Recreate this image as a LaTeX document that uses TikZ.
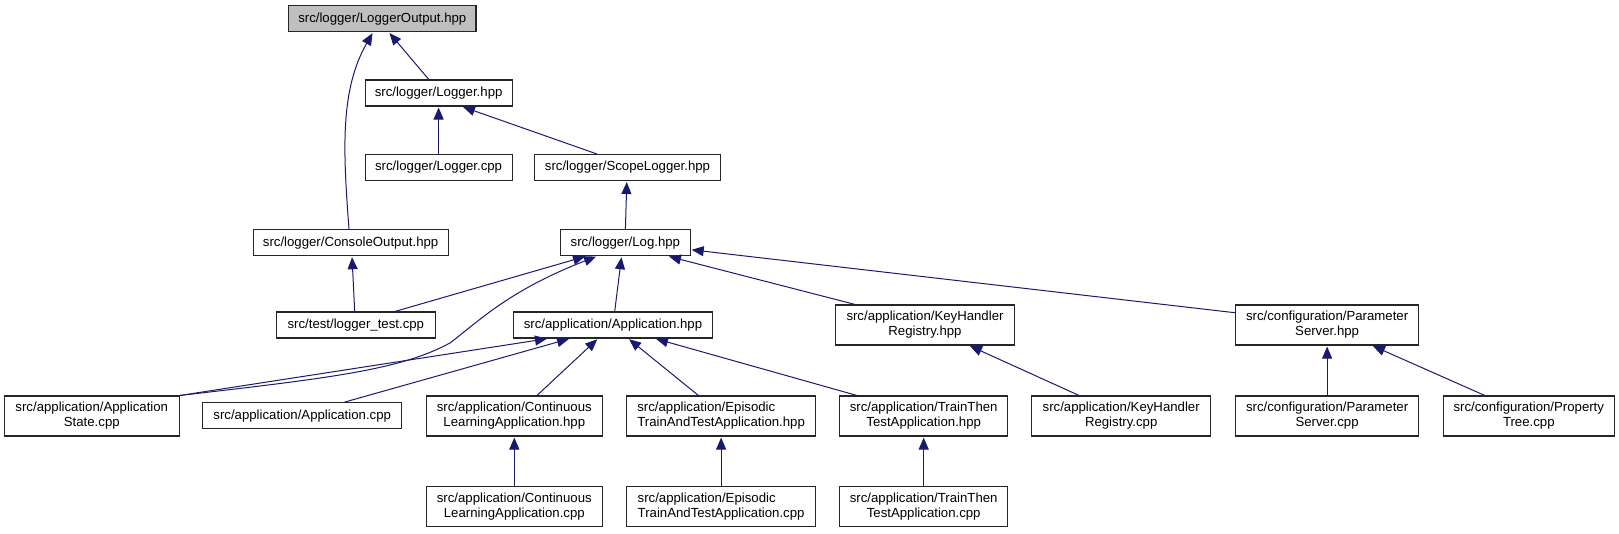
\documentclass[tikz,border=0pt]{standalone}
\usepackage{fontspec}
\setmainfont{Liberation Sans}
\usetikzlibrary{arrows.meta,calc}
\definecolor{edgeblue}{HTML}{191970}
\definecolor{boxgray}{HTML}{BFBFBF}
\newcommand\nodefont{\fontsize{13.2}{15}\selectfont}
\tikzset{
  box/.style={draw=black!85, line width=1.1pt, fill=white, inner sep=0pt, align=center, font=\nodefont},
  dep/.style={draw=edgeblue, line width=1pt, -{Triangle[length=12pt,width=10pt]}, shorten >=1pt}
}
\begin{document}
\begin{tikzpicture}[x=1pt,y=-1pt]
\useasboundingbox (0,0) rectangle (1619,533);
% row 0
\node[box, fill=boxgray, minimum width=187.4pt, minimum height=26pt] (lo) at (382.3,18.7) {src/logger/LoggerOutput.hpp};
% row 1
\node[box, minimum width=147pt, minimum height=26pt] (lh) at (438.6,93) {src/logger/Logger.hpp};
% row 2
\node[box, minimum width=147pt, minimum height=26pt] (lc) at (438.6,167.5) {src/logger/Logger.cpp};
\node[box, minimum width=185.2pt, minimum height=26pt] (sl) at (627.5,167.5) {src/logger/ScopeLogger.hpp};
% row 3
\node[box, minimum width=195pt, minimum height=26pt] (co) at (350.6,242.7) {src/logger/ConsoleOutput.hpp};
\node[box, minimum width=129.5pt, minimum height=26pt] (lg) at (625.4,242.7) {src/logger/Log.hpp};
% row 4
\node[box, minimum width=159pt, minimum height=26pt] (lt) at (355.8,325) {src/test/logger\_test.cpp};
\node[box, minimum width=198.4pt, minimum height=26pt] (ah) at (613,325) {src/application/Application.hpp};
\node[box, minimum width=179pt, minimum height=40pt] (kh) at (925,325) {src/application/KeyHandler\\Registry.hpp};
\node[box, minimum width=183.6pt, minimum height=40pt] (ps) at (1327.1,325) {src/configuration/Parameter\\Server.hpp};
% row 5
\node[box, minimum width=175.3pt, minimum height=40pt] (as) at (91.8,416) {src/application/Application\\State.cpp};
\node[box, minimum width=199.4pt, minimum height=26pt] (ac) at (302.2,415.7) {src/application/Application.cpp};
\node[box, minimum width=175.9pt, minimum height=40pt] (ch) at (514.3,416) {src/application/Continuous\\LearningApplication.hpp};
\node[box, align=left, minimum width=189.5pt, minimum height=40pt] (eh) at (721.1,416) {src/application/Episodic\\TrainAndTestApplication.hpp};
\node[box, minimum width=168.1pt, minimum height=40pt] (th) at (923.7,416) {src/application/TrainThen\\TestApplication.hpp};
\node[box, minimum width=179.4pt, minimum height=40pt] (kc) at (1121.2,416) {src/application/KeyHandler\\Registry.cpp};
\node[box, minimum width=183.6pt, minimum height=40pt] (pc) at (1327.1,416) {src/configuration/Parameter\\Server.cpp};
\node[box, minimum width=171.5pt, minimum height=40pt] (pt) at (1528.8,416) {src/configuration/Property\\Tree.cpp};
% row 6
\node[box, minimum width=175.9pt, minimum height=40pt] (cc) at (514.3,506.7) {src/application/Continuous\\LearningApplication.cpp};
\node[box, align=left, minimum width=189.5pt, minimum height=40pt] (ec) at (721.1,506.7) {src/application/Episodic\\TrainAndTestApplication.cpp};
\node[box, minimum width=168.1pt, minimum height=40pt] (tc) at (923.7,506.7) {src/application/TrainThen\\TestApplication.cpp};

% edges
\draw[dep] ($(co.north)+(-1.6,0)$) .. controls (343,150) and (340,90) .. ($(lo.south)+(-9.3,0)$);
\draw[dep] ($(lh.north)+(-9.8,0)$) -- ($(lo.south)+(6.5,0)$);
\draw[dep] (lc.north) -- (lh.south);
\draw[dep] ($(sl.north)+(-30.7,0)$) -- ($(lh.south)+(23.4,0)$);
\draw[dep] (lg.north) -- ($(sl.south)+(-0.7,0)$);
\draw[dep] ($(lt.north)+(-1.1,0)$) -- ($(co.south)+(1.4,0)$);
\draw[dep] ($(lt.north)+(39.2,0)$) -- ($(lg.south)+(-39.4,0)$);
\draw[dep] (as.north east) .. controls (330,378) and (400,370) .. (450,343) .. controls (480,320) and (510,290) .. ($(lg.south)+(-28.4,0)$);
\draw[dep] ($(ah.north)+(1.7,0)$) -- ($(lg.south)+(-3.8,0)$);
\draw[dep] ($(kh.north)+(-69.9,0)$) -- ($(lg.south)+(42.6,0)$);
\draw[dep] ($(ps.west)+(0,-12.3)$) -- ($(lg.east)+(0,7)$);
\draw[dep] (as.north east) -- ($(ah.south)+(-65,0)$);
\draw[dep] ($(ac.north)+(42.2,0)$) -- ($(ah.south)+(-43,0)$);
\draw[dep] ($(ch.north)+(22.7,0)$) -- ($(ah.south)+(-15,0)$);
\draw[dep] ($(eh.north)+(-22.7,0)$) -- ($(ah.south)+(15.3,0)$);
\draw[dep] ($(th.north)+(-66.9,0)$) -- ($(ah.south)+(42,0)$);
\draw[dep] ($(kc.north)+(-42.2,0)$) -- ($(kh.south)+(44,0)$);
\draw[dep] (pc.north) -- (ps.south);
\draw[dep] ($(pt.north)+(-44.1,0)$) -- ($(ps.south)+(44.9,0)$);
\draw[dep] (cc.north) -- (ch.south);
\draw[dep] (ec.north) -- (eh.south);
\draw[dep] (tc.north) -- (th.south);
\end{tikzpicture}
\end{document}
